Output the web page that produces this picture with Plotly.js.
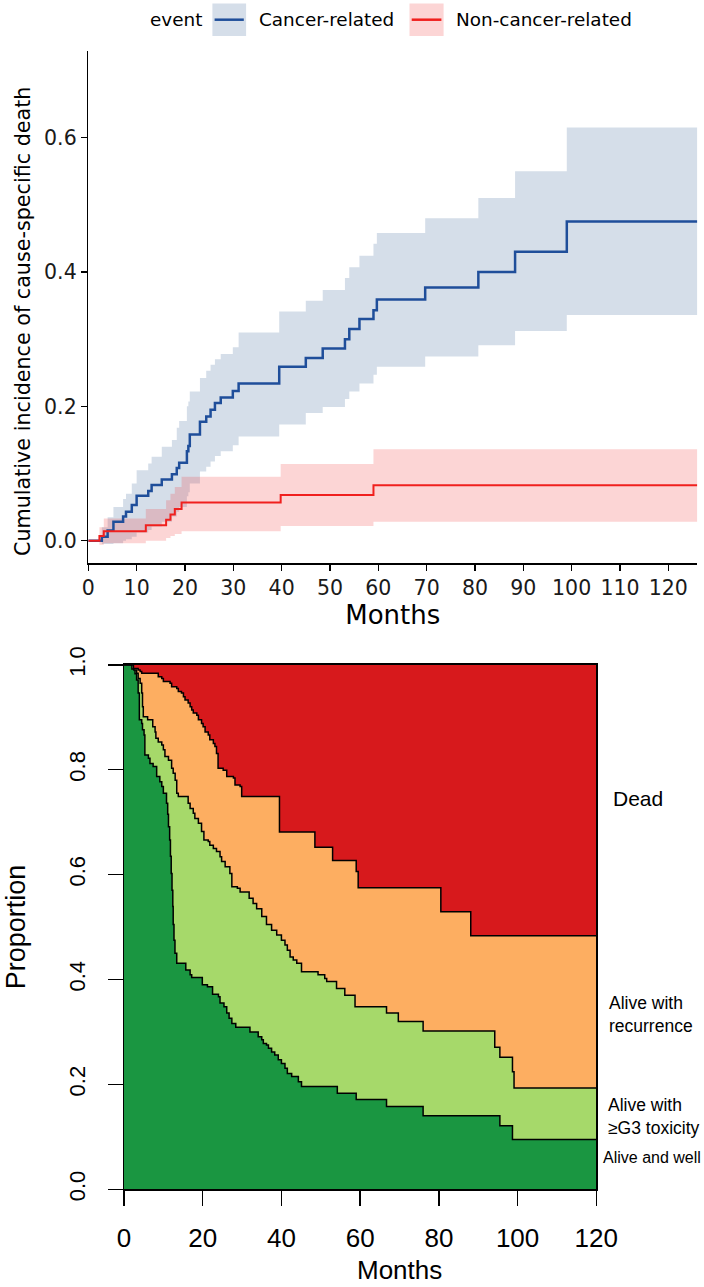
<!DOCTYPE html>
<html><head><meta charset="utf-8">
<script src="https://cdn.plot.ly/plotly-3.0.1.min.js"></script>
<style>html,body{margin:0;padding:0;background:#fff}#chart{width:704px;height:1287px}</style>
</head><body><div id="chart"></div>
<script>
// ---------- Top panel: cumulative incidence (months) ----------
const cancerTime  = [0, 2.8, 4.0, 5.2, 7.2, 7.8, 9.0, 10.0, 12.4, 13.1, 15.2, 17.3, 18.3, 18.8, 20.4, 20.7, 21.0, 23.1, 24.4, 25.3, 26.2, 27.4, 29.9, 31.1, 39.5, 45.0, 48.5, 53.1, 54.0, 56.1, 59.0, 59.7, 69.7, 80.7, 88.3, 99.0, 126];
const cancerEst   = [0, 0.006, 0.015, 0.028, 0.036, 0.043, 0.053, 0.067, 0.074, 0.083, 0.091, 0.099, 0.108, 0.116, 0.133, 0.141, 0.158, 0.177, 0.185, 0.195, 0.205, 0.213, 0.223, 0.234, 0.259, 0.272, 0.286, 0.300, 0.315, 0.330, 0.343, 0.359, 0.377, 0.400, 0.430, 0.475, 0.475];
const cancerLower = [0, -0.005, -0.005, -0.004, 0, 0.002, 0.006, 0.012, 0.016, 0.021, 0.028, 0.036, 0.043, 0.05, 0.066, 0.072, 0.085, 0.103, 0.11, 0.118, 0.126, 0.133, 0.142, 0.155, 0.173, 0.19, 0.199, 0.211, 0.222, 0.234, 0.247, 0.259, 0.274, 0.291, 0.312, 0.336, 0.336];
const cancerUpper = [0, 0.02, 0.035, 0.05, 0.062, 0.07, 0.085, 0.105, 0.115, 0.125, 0.14, 0.15, 0.168, 0.178, 0.2, 0.207, 0.222, 0.242, 0.253, 0.262, 0.27, 0.278, 0.288, 0.31, 0.341, 0.357, 0.373, 0.391, 0.407, 0.424, 0.442, 0.458, 0.480, 0.510, 0.550, 0.615, 0.615];

const nonCancerTime  = [0, 2.3, 3.2, 11.9, 16.1, 17.0, 17.9, 19.3, 39.8, 59.0, 126];
const nonCancerEst   = [0, 0.007, 0.014, 0.023, 0.031, 0.039, 0.047, 0.057, 0.068, 0.0825, 0.0825];
const nonCancerLower = [0, -0.006, -0.004, 0, 0.004, 0.007, 0.01, 0.014, 0.022, 0.028, 0.028];
const nonCancerUpper = [0, 0.02, 0.033, 0.047, 0.06, 0.07, 0.08, 0.095, 0.114, 0.136, 0.136];

const topXTicks = [0, 10, 20, 30, 40, 50, 60, 70, 80, 90, 100, 110, 120];
const topYTicks = [0, 0.2, 0.4, 0.6];
const topYTickText = ['0.0', '0.2', '0.4', '0.6'];
const legendTitle = 'event';
const eventNames = ['Cancer-related', 'Non-cancer-related'];

// ---------- Bottom panel: state proportions ----------
const wellTime = [0, 2.0, 2.8, 3.2, 3.6, 3.9, 4.5, 4.7, 5.1, 5.3, 6.2, 6.6, 7.4, 8.3, 9.1, 9.6, 10.0, 10.8, 11.1, 11.3, 11.6, 11.8, 12.0, 12.2, 12.4, 12.5, 12.7, 12.95, 13.4, 15.7, 16.8, 17.2, 19.9, 21.2, 22.5, 24.0, 24.4, 25.4, 26.1, 26.7, 27.4, 28.4, 32.0, 34.1, 35.0, 35.4, 36.2, 36.7, 37.5, 38.3, 39.2, 40.0, 40.9, 41.5, 42.6, 44.3, 45.1, 54.2, 59.0, 66.7, 76.0, 95.5, 98.7, 120];
const wellProp = [1.0, 0.992, 0.983, 0.971, 0.946, 0.895, 0.888, 0.876, 0.866, 0.828, 0.822, 0.812, 0.806, 0.787, 0.777, 0.768, 0.755, 0.736, 0.715, 0.691, 0.666, 0.635, 0.602, 0.570, 0.539, 0.505, 0.475, 0.450, 0.431, 0.418, 0.409, 0.404, 0.390, 0.386, 0.372, 0.367, 0.355, 0.348, 0.336, 0.326, 0.316, 0.309, 0.300, 0.291, 0.285, 0.278, 0.275, 0.269, 0.262, 0.256, 0.247, 0.240, 0.231, 0.221, 0.215, 0.205, 0.196, 0.183, 0.171, 0.158, 0.140, 0.121, 0.095, 0.095];

const toxTime = [0, 2.5, 3.2, 3.6, 4.1, 4.5, 4.7, 4.9, 6.0, 7.3, 7.9, 8.1, 8.7, 9.6, 10.0, 10.4, 11.3, 12.1, 12.5, 13.0, 13.4, 13.8, 16.3, 16.8, 17.6, 18.0, 18.9, 19.7, 20.3, 21.4, 21.8, 22.7, 23.5, 24.4, 24.8, 25.7, 26.9, 27.4, 28.8, 29.5, 31.8, 32.8, 33.7, 35.0, 36.2, 37.5, 38.8, 40.0, 40.9, 41.5, 42.2, 43.0, 43.9, 45.1, 49.3, 51.0, 51.5, 54.0, 56.1, 58.7, 66.7, 69.7, 76.0, 94.2, 95.5, 98.7, 99.1, 120];
const toxProp = [1.0, 0.990, 0.984, 0.974, 0.965, 0.946, 0.920, 0.901, 0.895, 0.882, 0.872, 0.860, 0.853, 0.847, 0.838, 0.825, 0.818, 0.803, 0.793, 0.780, 0.755, 0.749, 0.736, 0.726, 0.717, 0.707, 0.698, 0.682, 0.666, 0.663, 0.656, 0.650, 0.644, 0.634, 0.625, 0.615, 0.602, 0.577, 0.574, 0.567, 0.555, 0.545, 0.535, 0.520, 0.505, 0.494, 0.485, 0.475, 0.466, 0.456, 0.443, 0.437, 0.431, 0.415, 0.409, 0.402, 0.396, 0.383, 0.370, 0.348, 0.336, 0.320, 0.302, 0.271, 0.252, 0.224, 0.193, 0.193];

const aliveTime = [0, 2.4, 3.6, 4.1, 4.5, 8.7, 9.6, 10.0, 11.7, 12.1, 13.4, 13.8, 14.6, 15.1, 15.5, 16.3, 16.8, 17.2, 17.6, 18.5, 18.9, 19.7, 20.1, 20.6, 21.4, 21.8, 22.7, 23.1, 23.5, 23.9, 25.2, 26.1, 27.8, 28.2, 29.5, 29.9, 39.5, 48.5, 53.0, 59.0, 59.5, 80.5, 88.1, 120];
const aliveProp = [1.0, 0.993, 0.990, 0.987, 0.984, 0.977, 0.974, 0.968, 0.965, 0.958, 0.955, 0.949, 0.946, 0.939, 0.933, 0.927, 0.920, 0.914, 0.908, 0.904, 0.895, 0.888, 0.882, 0.872, 0.866, 0.857, 0.850, 0.844, 0.831, 0.803, 0.799, 0.787, 0.784, 0.771, 0.768, 0.749, 0.681, 0.652, 0.627, 0.606, 0.575, 0.529, 0.4836, 0.4836];

const botXTicks = [0, 20, 40, 60, 80, 100, 120];
const botYTicks = [0, 0.2, 0.4, 0.6, 0.8, 1.0];
const botYTickText = ['0.0', '0.2', '0.4', '0.6', '0.8', '1.0'];
const stateLabels = ['Dead', 'Alive with<br>recurrence', 'Alive with<br>≥G3 toxicity', 'Alive and well'];

// ---------- Styling / layout helpers ----------
const W = 704, H = 1287;
const px = x => x / W;
const py = y => 1 - y / H;
const blueLine = '#1f4e9a', redLine = '#f0201e';
const blueFill = 'rgba(45,90,145,0.2)', redFill = 'rgba(240,45,45,0.2)';
const TOPF = 'DejaVu Sans', BOTF = 'Liberation Sans, Arial, sans-serif';

function band(x, y, fill) {
  return {x: x, y: y, xaxis: 'x', yaxis: 'y', mode: 'lines', line: {width: 0, shape: 'hv'},
          fill: fill ? 'tonexty' : 'none', fillcolor: fill || undefined, hoverinfo: 'skip', showlegend: false};
}
function step(x, y, color, w, ax, ay, fill, fillcolor) {
  return {x: x, y: y, xaxis: ax, yaxis: ay, mode: 'lines', line: {color: color, width: w, shape: 'hv'},
          fill: fill || 'none', fillcolor: fillcolor, showlegend: false, hoverinfo: 'skip'};
}

const totalProp = aliveTime.map(() => 1);

const data = [
  band(cancerTime, cancerLower, null),
  band(cancerTime, cancerUpper, blueFill),
  band(nonCancerTime, nonCancerLower, null),
  band(nonCancerTime, nonCancerUpper, redFill),
  step(cancerTime, cancerEst, blueLine, 2.5, 'x', 'y'),
  step(nonCancerTime, nonCancerEst, redLine, 2, 'x', 'y'),
  step(wellTime, wellProp, '#000', 1.5, 'x2', 'y2', 'tozeroy', '#1a9641'),
  step(toxTime, toxProp, '#000', 1.5, 'x2', 'y2', 'tonexty', '#a6d96a'),
  step(aliveTime, aliveProp, '#000', 1.5, 'x2', 'y2', 'tonexty', '#fdae61'),
  step(aliveTime, totalProp, 'rgba(0,0,0,0)', 0, 'x2', 'y2', 'tonexty', '#d7191c')
];

const ann = (text, x, y, size, fam, xanchor, yanchor, angle) => ({
  text: text, x: px(x), y: py(y), xref: 'paper', yref: 'paper', showarrow: false,
  xanchor: xanchor || 'left', yanchor: yanchor || 'middle', align: 'left', textangle: angle || 0,
  font: {family: fam, size: size, color: '#000'}});

const layout = {
  width: W, height: H, margin: {l: 0, r: 0, t: 0, b: 0},
  paper_bgcolor: '#fff', plot_bgcolor: 'rgba(0,0,0,0)',
  showlegend: false, font: {family: TOPF, color: '#000'},
  xaxis: {domain: [px(88.3), px(697.3)], anchor: 'y', range: [0, 126], tickvals: topXTicks,
    ticks: 'outside', ticklen: 6, tickwidth: 1.5, tickcolor: '#000', showline: true, linecolor: '#000',
    linewidth: 1.5, showgrid: false, zeroline: false, fixedrange: true,
    tickfont: {family: TOPF, size: 20.5, color: '#1a1a1a'},
    title: {text: 'Months', font: {family: TOPF, size: 26, color: '#000'}, standoff: 6}},
  yaxis: {domain: [py(563.3), py(51)], anchor: 'x', range: [-0.0337, 0.729], tickvals: topYTicks, ticktext: topYTickText,
    ticks: 'outside', ticklen: 6, tickwidth: 1.5, tickcolor: '#000', showline: true, linecolor: '#000',
    linewidth: 1.5, showgrid: false, zeroline: false, fixedrange: true,
    tickfont: {family: TOPF, size: 20.5, color: '#1a1a1a'}},
  xaxis2: {domain: [px(124), px(596.3)], anchor: 'y2', range: [0, 120], tickvals: botXTicks,
    ticks: 'outside', ticklen: 15, tickwidth: 1.5, tickcolor: '#000', showline: true, mirror: true, linecolor: '#000',
    linewidth: 1.5, showgrid: false, zeroline: false, fixedrange: true, ticklabelstandoff: 10,
    tickfont: {family: BOTF, size: 26, color: '#000'}},
  yaxis2: {domain: [py(1189.3), py(664.8)], anchor: 'x2', range: [0, 1], tickvals: botYTicks, ticktext: botYTickText,
    tickangle: -90, ticks: 'outside', ticklen: 15, tickwidth: 1.5, tickcolor: '#000', showline: true, mirror: true,
    linecolor: '#000', linewidth: 1.5, showgrid: false, zeroline: false, fixedrange: true, ticklabelstandoff: 14,
    tickfont: {family: BOTF, size: 22, color: '#000'},
    title: {text: 'Proportion', font: {family: BOTF, size: 27, color: '#000'}, standoff: 31}},
  shapes: [
    {type: 'rect', xref: 'paper', yref: 'paper', x0: px(212.4), x1: px(246.1), y0: py(35.9), y1: py(3.6), fillcolor: '#d5dee9', line: {width: 0}},
    {type: 'line', xref: 'paper', yref: 'paper', x0: px(214.6), x1: px(243.8), y0: py(19.7), y1: py(19.7), line: {color: blueLine, width: 2.5}},
    {type: 'rect', xref: 'paper', yref: 'paper', x0: px(409.5), x1: px(443.6), y0: py(35.9), y1: py(3.6), fillcolor: '#fcd5d5', line: {width: 0}},
    {type: 'line', xref: 'paper', yref: 'paper', x0: px(411.7), x1: px(441.4), y0: py(19.7), y1: py(19.7), line: {color: redLine, width: 2.5}}
  ],
  annotations: [
    ann('Cumulative incidence of cause-specific death', 23, 322, 20.7, TOPF, 'center', 'middle', -90),
    ann(legendTitle, 148, 19.7, 18.4, TOPF),
    ann(eventNames[0], 256.5, 19.7, 18.4, TOPF),
    ann(eventNames[1], 454, 19.7, 18.4, TOPF),
    ann('Months', 399, 1287, 26, BOTF, 'center', 'bottom'),
    ann(stateLabels[0], 611, 798.3, 21, BOTF),
    ann(stateLabels[1], 606.5, 1014, 17.5, BOTF),
    ann(stateLabels[2], 606, 1116.5, 17.5, BOTF),
    ann(stateLabels[3], 601, 1157, 16, BOTF)
  ]
};

Plotly.newPlot('chart', data, layout, {displayModeBar: false, staticPlot: true});
</script></body></html>
